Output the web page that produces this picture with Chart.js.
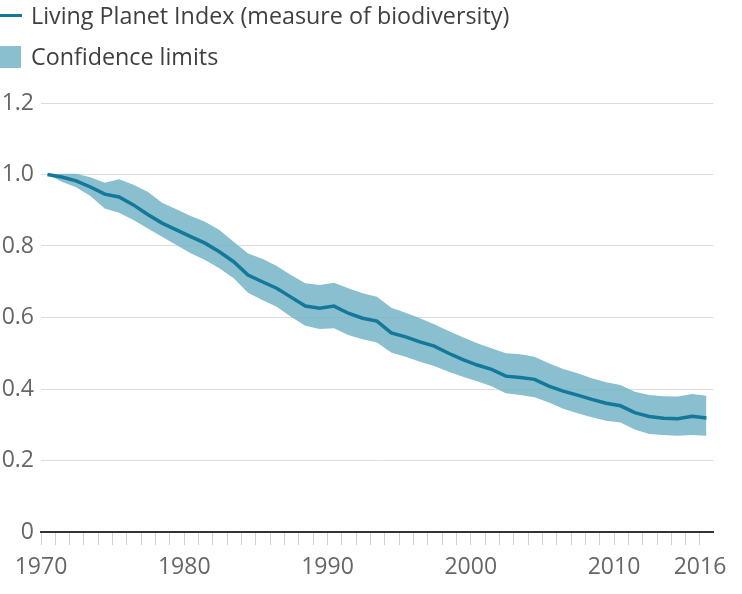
<!DOCTYPE html>
<html>
<head>
<meta charset="utf-8">
<script src="https://cdn.jsdelivr.net/npm/chart.js@4.4.1/dist/chart.umd.min.js"></script>
<style>
    body { margin: 0; background: #fff; font-family: 'Open Sans', sans-serif; }
    #wrap { position: relative; width: 742px; height: 594px; }
    #myChart { position: absolute; left: 0; top: 0; }
    .item { position: absolute; left: 31px; font-size: 23.3px; line-height: 30px; color: #3f3f3f; white-space: nowrap; }
    .simbolo { position: absolute; left: 0; }
</style>
</head>
<body>
<div id="wrap">
    <canvas id="myChart" width="742" height="594"></canvas>
    <div class="simbolo" style="top: 14px; width: 22px; height: 3px; background: #13789a;"></div>
    <div class="item" style="top: 0px;">Living Planet Index (measure of biodiversity)</div>
    <div class="simbolo" style="top: 46px; width: 21px; height: 22px; background: #8abfcf;"></div>
    <div class="item" style="top: 41px;">Confidence limits</div>
</div>
<script>
// datos (1970-2016)
const years = [1970, 1971, 1972, 1973, 1974, 1975, 1976, 1977, 1978, 1979,
    1980, 1981, 1982, 1983, 1984, 1985, 1986, 1987, 1988, 1989,
    1990, 1991, 1992, 1993, 1994, 1995, 1996, 1997, 1998, 1999,
    2000, 2001, 2002, 2003, 2004, 2005, 2006, 2007, 2008, 2009,
    2010, 2011, 2012, 2013, 2014, 2015, 2016];

const indice = [1.000, 0.993, 0.982, 0.965, 0.945, 0.937, 0.915, 0.888, 0.864, 0.845,
    0.826, 0.808, 0.784, 0.756, 0.719, 0.700, 0.682, 0.657, 0.632, 0.626,
    0.632, 0.612, 0.598, 0.590, 0.557, 0.546, 0.532, 0.520, 0.500, 0.482,
    0.467, 0.455, 0.436, 0.432, 0.427, 0.408, 0.394, 0.383, 0.371, 0.360,
    0.353, 0.334, 0.323, 0.318, 0.317, 0.324, 0.319];

const limiteSup = [1.000, 1.002, 1.002, 0.992, 0.977, 0.987, 0.971, 0.952, 0.921, 0.903,
    0.884, 0.868, 0.845, 0.812, 0.779, 0.764, 0.744, 0.719, 0.696, 0.691,
    0.697, 0.682, 0.668, 0.658, 0.627, 0.613, 0.598, 0.581, 0.562, 0.545,
    0.528, 0.514, 0.500, 0.497, 0.490, 0.472, 0.456, 0.444, 0.430, 0.419,
    0.411, 0.392, 0.383, 0.380, 0.379, 0.386, 0.381];

const limiteInf = [1.000, 0.980, 0.964, 0.940, 0.905, 0.893, 0.873, 0.849, 0.826, 0.803,
    0.780, 0.761, 0.738, 0.710, 0.669, 0.649, 0.630, 0.602, 0.577, 0.568,
    0.570, 0.551, 0.539, 0.530, 0.502, 0.490, 0.476, 0.464, 0.448, 0.434,
    0.422, 0.408, 0.388, 0.383, 0.377, 0.362, 0.345, 0.332, 0.321, 0.311,
    0.306, 0.287, 0.274, 0.271, 0.269, 0.271, 0.269];

const xLabels = [1970, 1980, 1990, 2000, 2010, 2016];
const yTicks = [0, 0.2, 0.4, 0.6, 0.8, 1.0, 1.2];

// los puntos van a mitad de año
const toPoints = (serie) => years.map((yr, i) => ({ x: yr + 0.45, y: serie[i] }));

Chart.defaults.font.family = "'Open Sans', sans-serif";

const ctx = document.getElementById('myChart').getContext('2d');

const myChart = new Chart(ctx, {
    type: 'line',
    data: {
        datasets: [
            {
                label: 'Living Planet Index (measure of biodiversity)',
                data: toPoints(indice),
                borderColor: '#13789a',
                borderWidth: 3.5,
                pointRadius: 0,
                fill: false,
                order: 0
            },
            {
                label: 'Confidence limits',
                data: toPoints(limiteSup),
                borderWidth: 0,
                pointRadius: 0,
                backgroundColor: 'rgba(117, 180, 199, 0.85)',
                fill: '+1',
                order: 1
            },
            {
                label: 'lower',
                data: toPoints(limiteInf),
                borderWidth: 0,
                pointRadius: 0,
                fill: false,
                order: 1
            }
        ]
    },
    options: {
        responsive: false,
        animation: false,
        layout: {
            padding: { top: 103, left: 0, right: 28.7, bottom: 0 }
        },
        plugins: {
            legend: { display: false },
            tooltip: { enabled: false }
        },
        scales: {
            x: {
                type: 'linear',
                min: 1970,
                max: 2016.93,
                afterFit: (s) => { s.height = 62; },
                grid: {
                    drawOnChartArea: false,
                    drawTicks: true,
                    tickLength: 13,
                    color: '#d0d0d0'
                },
                border: { display: true, color: '#333', width: 2 },
                ticks: {
                    stepSize: 1,
                    autoSkip: false,
                    maxRotation: 0,
                    includeBounds: false,
                    padding: 9,
                    color: '#666',
                    font: { size: 23 },
                    callback: (v) => xLabels.includes(v) ? String(v) : ''
                }
            },
            y: {
                min: 0,
                max: 1.2,
                afterFit: (s) => { s.width = 41; },
                afterBuildTicks: (s) => { s.ticks = yTicks.map(v => ({ value: v })); },
                grid: {
                    drawTicks: false,
                    color: (c) => c.tick && c.tick.value === 0 ? '#333' : '#dcdcdc',
                    lineWidth: (c) => c.tick && c.tick.value === 0 ? 2 : 1
                },
                border: { display: false },
                ticks: {
                    padding: 7,
                    color: '#666',
                    font: { size: 23 },
                    callback: (v) => v === 0 ? '0' : v.toFixed(1)
                }
            }
        }
    }
});
</script>
</body>
</html>
